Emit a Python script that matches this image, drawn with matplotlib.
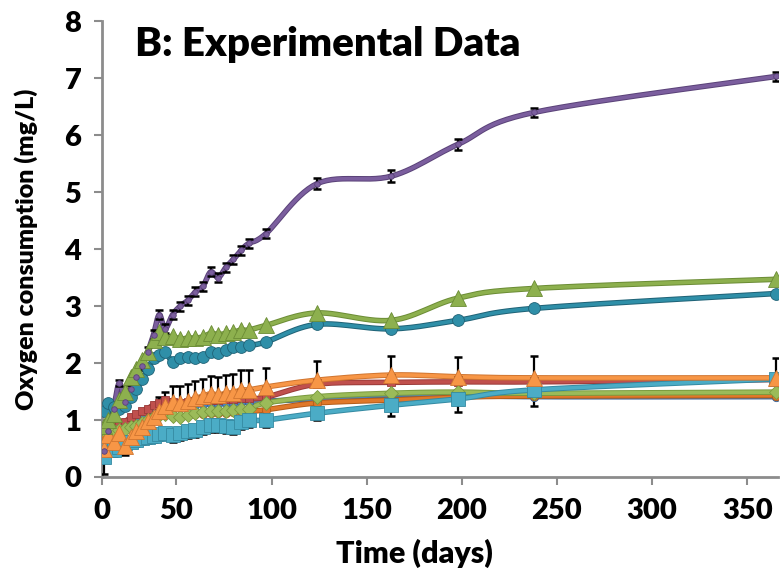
import numpy as np
import matplotlib.pyplot as plt

plt.rcParams['font.family'] = ['Lato', 'DejaVu Sans']

# sampling days (axis units) shared by all series
days = [12, 14, 17, 20, 23, 26, 29, 32, 35, 38, 41, 44, 48, 52, 56, 60, 64, 68,
        72, 76, 80, 84, 88, 97, 124, 163, 198, 238, 365]

purple = [0.45, 0.80, 1.20, 1.65, 1.32, 1.55, 1.75, 1.95, 2.20, 2.50, 2.85, 2.60, 2.85, 3.00,
          3.10, 3.25, 3.35, 3.60, 3.50, 3.68, 3.82, 3.98, 4.10, 4.27, 5.15, 5.28, 5.84, 6.40, 7.03]
olive = [0.90, 1.00, 1.10, 1.35, 1.50, 1.75, 1.90, 2.05, 2.20, 2.40, 2.55, 2.45, 2.47, 2.42,
         2.44, 2.44, 2.46, 2.52, 2.50, 2.52, 2.54, 2.58, 2.58, 2.66, 2.88, 2.75, 3.14, 3.31, 3.47]
teal = [1.15, 1.30, 1.22, 1.20, 1.25, 1.40, 1.55, 1.72, 1.90, 2.08, 2.15, 2.20, 2.02, 2.08,
        2.10, 2.09, 2.10, 2.20, 2.18, 2.23, 2.28, 2.28, 2.31, 2.37, 2.68, 2.60, 2.75, 2.96, 3.22]
orange = [0.50, 0.74, 0.62, 0.77, 0.55, 0.70, 0.80, 0.88, 0.98, 1.05, 1.15, 1.25, 1.32, 1.30,
          1.33, 1.38, 1.42, 1.46, 1.44, 1.47, 1.48, 1.53, 1.53, 1.58, 1.70, 1.79, 1.76, 1.74, 1.74]
red = [0.90, 0.92, 0.90, 0.95, 0.97, 1.05, 1.10, 1.15, 1.20, 1.27, 1.30, 1.35, 1.32, 1.30,
       1.32, 1.33, 1.35, 1.35, 1.35, 1.37, 1.37, 1.38, 1.38, 1.40, 1.63, 1.66, 1.67, 1.67, 1.71]
blue = [0.80, 0.85, 0.85, 0.88, 0.92, 0.98, 1.03, 1.08, 1.12, 1.18, 1.22, 1.26, 1.25, 1.24,
        1.26, 1.27, 1.28, 1.29, 1.29, 1.30, 1.30, 1.31, 1.31, 1.33, 1.37, 1.44, 1.44, 1.41, 1.41]
lightgreen = [0.82, 0.82, 0.80, 0.82, 0.85, 0.88, 0.90, 0.95, 1.00, 1.05, 1.08, 1.10, 1.07, 1.05,
              1.08, 1.12, 1.14, 1.15, 1.15, 1.16, 1.18, 1.20, 1.20, 1.30, 1.41, 1.47, 1.49, 1.47, 1.49]
darkorange = [0.75, 0.80, 0.78, 0.82, 0.85, 0.88, 0.92, 0.96, 1.00, 1.04, 1.08, 1.10, 1.08, 1.07,
              1.09, 1.10, 1.11, 1.12, 1.12, 1.13, 1.14, 1.15, 1.15, 1.18, 1.30, 1.35, 1.40, 1.42, 1.43]
lightblue = [0.35, 0.53, 0.47, 0.53, 0.60, 0.62, 0.65, 0.68, 0.70, 0.72, 0.75, 0.77, 0.73, 0.77,
             0.80, 0.82, 0.88, 0.91, 0.91, 0.90, 0.88, 0.96, 1.00, 1.00, 1.12, 1.26, 1.37, 1.53, 1.72]

purple_err = [0.05, 0.06, 0.06, 0.06, 0.07, 0.07, 0.07, 0.07, 0.08, 0.08, 0.08, 0.08, 0.08, 0.08,
              0.08, 0.08, 0.08, 0.08, 0.08, 0.08, 0.08, 0.08, 0.08, 0.08, 0.10, 0.10, 0.10, 0.08, 0.08]
orange_err = [0.15, 0.15, 0.15, 0.15, 0.15, 0.18, 0.18, 0.20, 0.20, 0.22, 0.25, 0.25, 0.28, 0.30,
              0.30, 0.30, 0.30, 0.32, 0.32, 0.32, 0.32, 0.34, 0.34, 0.34, 0.34, 0.33, 0.34, 0.38, 0.35]
lightblue_err = [0.30, 0.10, 0.10, 0.10, 0.22, 0.10, 0.10, 0.10, 0.10, 0.10, 0.10, 0.10, 0.12, 0.12,
                 0.12, 0.12, 0.12, 0.12, 0.12, 0.12, 0.12, 0.12, 0.12, 0.12, 0.12, 0.19, 0.23, 0.28, 0.05]

xtick_pos = [11, 50, 100, 150, 200, 250, 300, 350]
xtick_lab = ['0', '50', '100', '150', '200', '250', '300', '350']


def smooth(x, y, n=14):
    # Excel-like smoothed line through the points (Bezier with 1/6 tangents)
    pts = np.column_stack([x, y]).astype(float)
    P = np.vstack([pts[0], pts, pts[-1]])
    out = []
    t = np.linspace(0, 1, n, endpoint=False)[:, None]
    for i in range(1, len(P) - 2):
        p0, p1, p2, p3 = P[i - 1], P[i], P[i + 1], P[i + 2]
        c1 = p1 + (p2 - p0) / 6
        c2 = p2 - (p3 - p1) / 6
        out.append((1 - t) ** 3 * p1 + 3 * (1 - t) ** 2 * t * c1 + 3 * (1 - t) * t ** 2 * c2 + t ** 3 * p2)
    out.append(pts[-1:])
    s = np.vstack(out)
    return s[:, 0], s[:, 1]


def serie(ax, y, col, edge, marker, ms, err=None, errside='both'):
    sx, sy = smooth(days, y)
    ax.plot(sx, sy, color=edge, lw=4.0, solid_capstyle='round', zorder=2)
    ax.plot(sx, sy, color=col, lw=2.6, solid_capstyle='round', zorder=2)
    if err is not None:
        e = np.array(err)
        if errside == 'up':
            yerr = [np.zeros_like(e), e]
        elif errside == 'down':
            yerr = [e, np.zeros_like(e)]
        else:
            yerr = e
        ax.errorbar(days, y, yerr=yerr, fmt='none', ecolor='black', elinewidth=1.6,
                    capsize=3, capthick=1.8, zorder=3)
    ax.plot(days, y, ls='none', marker=marker, ms=ms, mfc=col, mec=edge, mew=0.6, zorder=4)


fig = plt.figure(figsize=(7.8, 5.74), dpi=100)
ax = fig.add_axes([0.131, 0.169, 0.866, 0.794])

serie(ax, blue, '#4F81BD', '#3A6496', 'o', 6)
serie(ax, red, '#C0504D', '#9A3A38', 's', 6)
serie(ax, darkorange, '#E0782A', '#B35C1A', 'o', 6)
serie(ax, lightgreen, '#9BBB59', '#7A9A3E', 'D', 7)
serie(ax, lightblue, '#4BACC6', '#358AA2', 's', 10, lightblue_err, 'down')
serie(ax, orange, '#F79646', '#D07530', '^', 11, orange_err, 'up')
serie(ax, teal, '#2F8FA8', '#1F6276', 'o', 8.5)
serie(ax, olive, '#8DB04E', '#6B8C35', '^', 11)
serie(ax, purple, '#7B5E9E', '#5A4278', 'o', 4, purple_err)

ax.set_xlim(11, 366)
ax.set_ylim(0, 8)
ax.set_xticks(xtick_pos)
ax.set_xticklabels(xtick_lab)
ax.set_yticks(range(0, 9))

for s in ['top', 'right']:
    ax.spines[s].set_visible(False)
for s in ['left', 'bottom']:
    ax.spines[s].set_color('#8C8C8C')
    ax.spines[s].set_linewidth(2)
ax.tick_params(axis='both', direction='out', length=6, width=1.5, color='#8C8C8C',
               labelsize=21, pad=9)
for lab in ax.get_xticklabels() + ax.get_yticklabels():
    lab.set_fontweight('heavy')

ax.set_xlabel('Time (days)', fontsize=22, fontweight='heavy', labelpad=6)
ax.xaxis.set_label_coords(0.462, -0.135)
ax.set_ylabel('Oxygen consumption (mg/L)', fontsize=18, fontweight='heavy')
ax.yaxis.set_label_coords(-0.095, 0.5)
ax.text(0.048, 0.99, 'B: Experimental Data', transform=ax.transAxes, fontsize=29,
        fontweight='heavy', va='top', ha='left')

fig.savefig('out.png', dpi=100)
